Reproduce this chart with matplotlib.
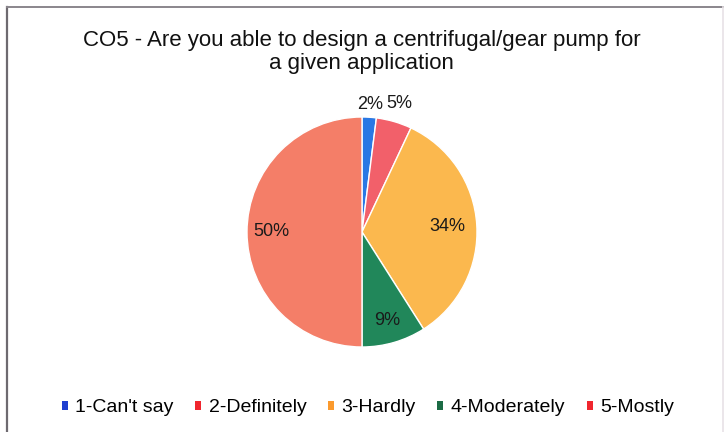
import numpy as np
import matplotlib.pyplot as plt
from matplotlib.patches import Patch
from matplotlib.lines import Line2D

plt.rcParams["font.family"] = ["Liberation Sans", "DejaVu Sans"]

title = "CO5 - Are you able to design a centrifugal/gear pump for\na given application"
labels = ["1-Can't say", "2-Definitely", "3-Hardly", "4-Moderately", "5-Mostly"]
values = [2, 5, 34, 9, 50]
colors = ["#2a78e4", "#f2606a", "#fbb84e", "#21875a", "#f47e68"]
legend_colors = ["#1f3fd0", "#f0262e", "#fb9a2e", "#1b6b45", "#f0262e"]
label_radius = [1.11, 1.16, 0.74, 0.80, 0.79]

fig = plt.figure(figsize=(7.27, 4.32), dpi=100)

# chart frame
fig.add_artist(Line2D([7 / 727, 7 / 727], [0, 1 - 7 / 432], color="#6e6a70", lw=1.6))
fig.add_artist(Line2D([7 / 727, 723 / 727], [1 - 7 / 432, 1 - 7 / 432], color="#8a868c", lw=1.4))
fig.add_artist(Line2D([723 / 727, 723 / 727], [0, 1 - 7 / 432], color="#e8e2e6", lw=1.2))

fig.text(0.497, 1 - 52 / 432, title, ha="center", va="center", fontsize=16,
         linespacing=1.1, color="#111111")

ax = fig.add_axes([247 / 727, (432 - 347) / 432, 230 / 727, 230 / 432])
wedges, _ = ax.pie(values, colors=colors, startangle=90, counterclock=False,
                   wedgeprops=dict(edgecolor="white", linewidth=1.0))
ax.set_xlim(-1, 1)
ax.set_ylim(-1, 1)
ax.set_aspect("equal")

for w, v, r in zip(wedges, values, label_radius):
    ang = np.deg2rad((w.theta1 + w.theta2) / 2)
    ax.text(r * np.cos(ang), r * np.sin(ang), f"{v}%", ha="center", va="center",
            fontsize=13, color="#1a1a1a", clip_on=False)

handles = [Patch(facecolor=c, edgecolor="none") for c in legend_colors]
fig.legend(handles, labels, loc="center", bbox_to_anchor=(368 / 727, 1 - 408 / 432),
           ncol=5, frameon=False, fontsize=14, handlelength=0.3, handleheight=0.3,
           handletextpad=0.4, columnspacing=1.1, borderaxespad=0)

fig.savefig("out.png", dpi=100, facecolor="white")
